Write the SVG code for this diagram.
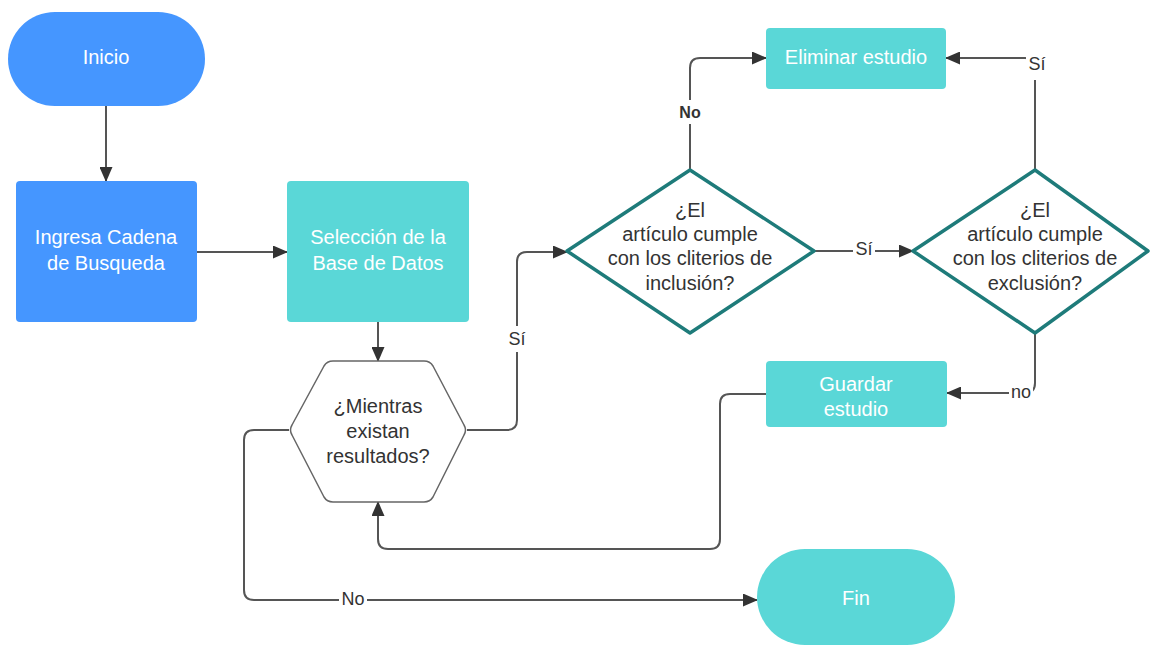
<svg xmlns="http://www.w3.org/2000/svg" width="1150" height="648" viewBox="0 0 1150 648">
<style>
.t{font-family:"Liberation Sans",Arial,sans-serif;font-size:20px;text-anchor:middle;dominant-baseline:central}
.w{fill:#ffffff}
.d{fill:#333333}
.lbl{font-family:"Liberation Sans",Arial,sans-serif;font-size:18px;text-anchor:middle;dominant-baseline:central;fill:#333333}
.blue{fill:#4596ff}
.teal{fill:#5ad7d7}
.dia{fill:#ffffff;stroke:#1e7b7a;stroke-width:3.5;stroke-linejoin:round}
.conn{fill:none;stroke:#555555;stroke-width:2}
.bg{fill:#ffffff}
</style>
<defs>
<marker id="arr" markerUnits="userSpaceOnUse" markerWidth="15" markerHeight="13" refX="14" refY="6.5" orient="auto">
<path d="M0,0 L15,6.5 L0,13 z" fill="#333333"/>
</marker>
</defs>
<rect width="1150" height="648" fill="#ffffff"/>
<g id="connectors">
<path class="conn" d="M106,106 V181" marker-end="url(#arr)"/>
<path class="conn" d="M197,252 H287" marker-end="url(#arr)"/>
<path class="conn" d="M378,322 V361" marker-end="url(#arr)"/>
<path class="conn" d="M467,430 H507 Q517,430 517,420 V262 Q517,252 527,252 H567" marker-end="url(#arr)"/>
<path class="conn" d="M814,251 H913" marker-end="url(#arr)"/>
<path class="conn" d="M690,170 V68 Q690,58 700,58 H766" marker-end="url(#arr)"/>
<path class="conn" d="M1035,170 V68 Q1035,58 1025,58 H946" marker-end="url(#arr)"/>
<path class="conn" d="M1035,333 V383 Q1035,393 1025,393 H947" marker-end="url(#arr)"/>
<path class="conn" d="M766,394 H730 Q720,394 720,404 V539 Q720,549 710,549 H388 Q378,549 378,539 V502" marker-end="url(#arr)"/>
<path class="conn" d="M289,430 H254 Q244,430 244,440 V590 Q244,600 254,600 H757" marker-end="url(#arr)"/>
<rect class="bg" x="506" y="326" width="22" height="26"/>
<text class="lbl" x="517" y="339">Sí</text>
<rect class="bg" x="853" y="240" width="22" height="20"/>
<text class="lbl" x="864" y="249">Sí</text>
<rect class="bg" x="676" y="100" width="28" height="24"/>
<text class="lbl" x="690" y="112" style="font-weight:bold;font-size:16px">No</text>
<rect class="bg" x="1026" y="50" width="22" height="30"/>
<text class="lbl" x="1037" y="64">Sí</text>
<rect class="bg" x="1009" y="384" width="24" height="18"/>
<text class="lbl" x="1021" y="392">no</text>
<rect class="bg" x="339" y="590" width="28" height="20"/>
<text class="lbl" x="353" y="599">No</text>
</g>
<g id="inicio">
<rect class="blue" x="8" y="12" width="197" height="94" rx="47"/>
<text class="t w" x="106" y="57">Inicio</text>
</g>
<g id="ingresa">
<rect class="blue" x="16" y="181" width="181" height="141" rx="4"/>
<text class="t w" x="106" y="237">Ingresa Cadena</text>
<text class="t w" x="106" y="263">de Busqueda</text>
</g>
<g id="seleccion">
<rect class="teal" x="287" y="181" width="182" height="141" rx="4"/>
<text class="t w" x="378" y="237">Selección de la</text>
<text class="t w" x="378" y="263">Base de Datos</text>
</g>
<g id="mientras">
<path d="M333,361 H424 Q430,361 433,366 L464,425 Q467,430 464,435 L433,497 Q430,502 424,502 H333 Q327,502 324,497 L292,435 Q289,430 292,425 L324,366 Q327,361 333,361 Z" fill="#ffffff" stroke="#666666" stroke-width="1.5"/>
<text class="t d" x="378" y="406">¿Mientras</text>
<text class="t d" x="378" y="431">existan</text>
<text class="t d" x="378" y="456">resultados?</text>
</g>
<g id="inclusion">
<path class="dia" d="M690,170 L814,251 L690,333 L567,251 Z"/>
<text class="t d" x="690" y="210">¿El</text>
<text class="t d" x="690" y="234">artículo cumple</text>
<text class="t d" x="690" y="258">con los cliterios de</text>
<text class="t d" x="690" y="283">inclusión?</text>
</g>
<g id="exclusion">
<path class="dia" d="M1035,170 L1148,251 L1035,333 L913,251 Z"/>
<text class="t d" x="1035" y="210">¿El</text>
<text class="t d" x="1035" y="234">artículo cumple</text>
<text class="t d" x="1035" y="258">con los cliterios de</text>
<text class="t d" x="1035" y="283">exclusión?</text>
</g>
<g id="eliminar">
<rect class="teal" x="766" y="28" width="180" height="61" rx="4"/>
<text class="t w" x="856" y="57">Eliminar estudio</text>
</g>
<g id="guardar">
<rect class="teal" x="766" y="361" width="181" height="66" rx="4"/>
<text class="t w" x="856" y="384">Guardar</text>
<text class="t w" x="856" y="409">estudio</text>
</g>
<g id="fin">
<rect class="teal" x="757" y="549" width="198" height="96" rx="48"/>
<text class="t w" x="856" y="598">Fin</text>
</g>
</svg>
